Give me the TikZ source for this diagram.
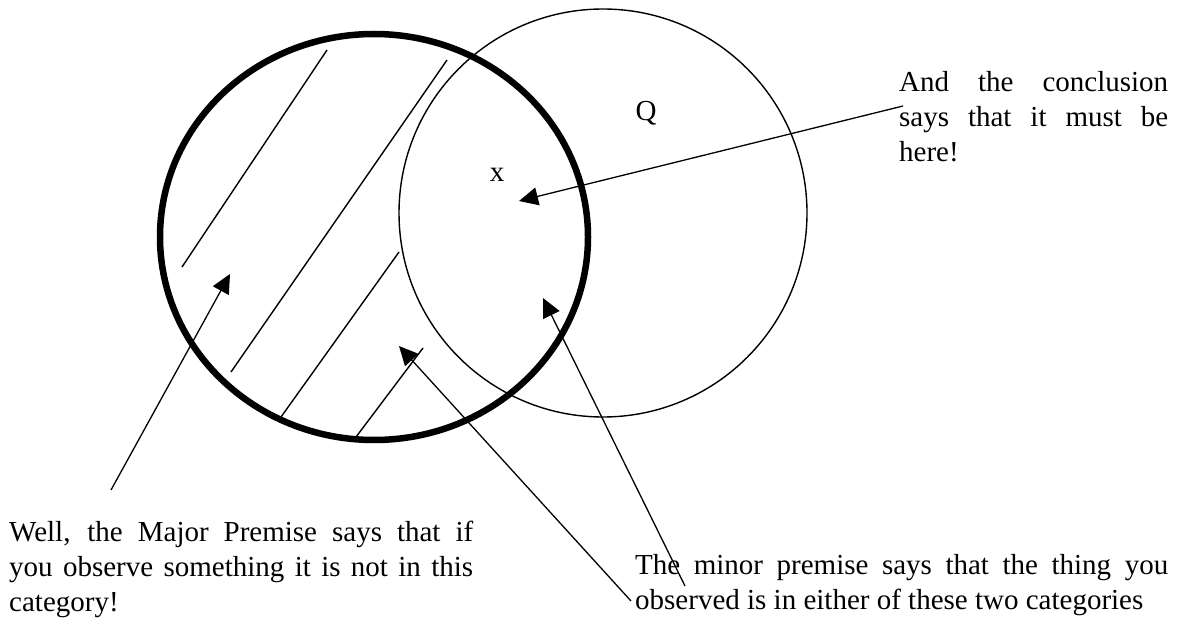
\documentclass[tikz,border=0pt]{standalone}
\usepackage{fontspec}
\setmainfont{Liberation Serif}
\usetikzlibrary{arrows.meta}
\newcommand\jline[2]{\hbox to #1{\spaceskip=0.25em plus 1fil\xspaceskip=0.25em plus 1fil\relax #2}}
\newcommand\tblock[2]{\vtop{\hsize=#1\relax\baselineskip=35pt\relax #2}}
\begin{document}
\begin{tikzpicture}[x=1pt,y=-1pt,
  thinline/.style={line width=1.4pt},
  hatch/.style={line width=1.4pt},
  pointer/.style={line width=1.3pt,-{Triangle[length=19pt,width=18pt]}},
  lbl/.style={inner sep=0pt,font=\fontsize{29}{35}\selectfont}]
\useasboundingbox (0,0) rectangle (1188,628);
% circles
\draw[line width=6.5pt] (374,237) ellipse [x radius=214pt, y radius=203pt];
\draw[thinline] (603,213) circle [radius=204pt];
% hatching
\draw[hatch] (327,50) -- (182,267);
\draw[hatch] (447,60) -- (231,372);
\draw[hatch] (399,252) -- (281,417);
\draw[hatch] (423,348) -- (356,437);
% labels
\node[lbl,anchor=base] (Q) at (646,121) {Q};
\node[lbl,anchor=base] (x) at (497,182) {x};
% texts
\node[lbl,anchor=base west] (concl) at (899,92)
  {\tblock{269pt}{\jline{269pt}{And the conclusion}\jline{269pt}{says that it must be}\hbox{here!}}};
\node[lbl,anchor=base west] (major) at (9,541)
  {\tblock{464pt}{\jline{464pt}{Well, the Major Premise says that if}\jline{464pt}{you observe something it is not in this}\hbox{category!}}};
\node[lbl,anchor=base west] (minor) at (635,574)
  {\tblock{533pt}{\jline{533pt}{The minor premise says that the thing you}\hbox{observed is in either of these two categories}}};
% arrow ends
\coordinate (cTail) at (903,106);
\coordinate (cTip) at (519,201);
\coordinate (aTail) at (111,490);
\coordinate (aTip) at (230,274);
\coordinate (bTail) at (631,601);
\coordinate (bTip) at (399,346);
\coordinate (dTail) at (685,586);
\coordinate (dTip) at (543,298);
\draw[pointer] (cTail) -- (cTip);
\draw[pointer] (aTail) -- (aTip);
\draw[pointer] (bTail) -- (bTip);
\draw[pointer] (dTail) -- (dTip);
\end{tikzpicture}
\end{document}
